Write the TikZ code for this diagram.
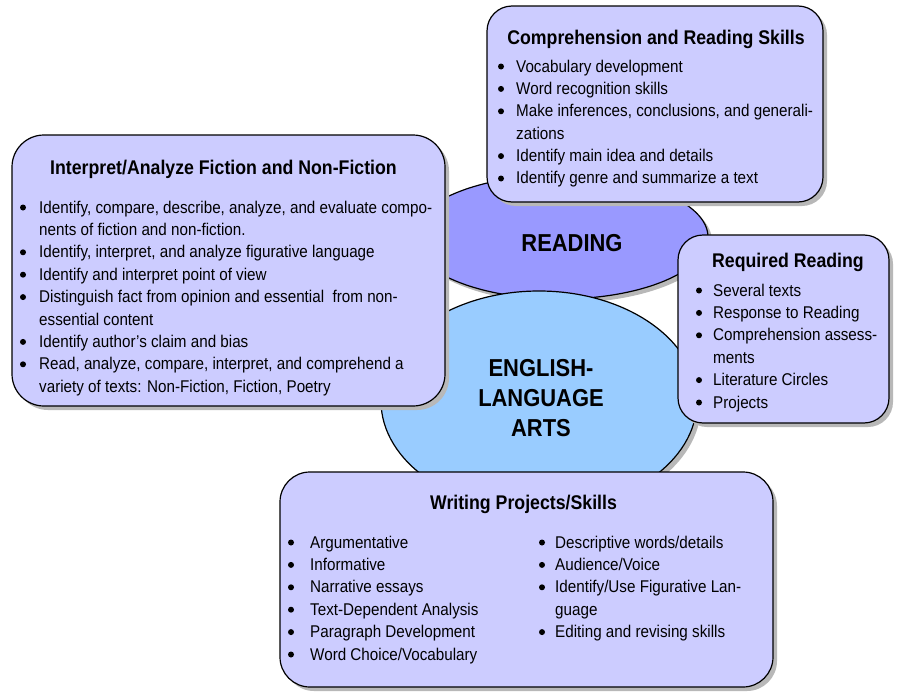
\documentclass[tikz,border=0pt]{standalone}
\usepackage{fontspec}
\setmainfont{Liberation Sans}[FakeStretch=0.895]
\usetikzlibrary{shapes}
\usetikzlibrary{shadows}

\definecolor{panelfill}{HTML}{CCCCFF}
\definecolor{readingfill}{HTML}{9999FF}
\definecolor{elafill}{HTML}{99CCFF}

\newcommand{\blist}[1]{\begin{tabular}[t]{@{}l@{}}#1\end{tabular}}

\begin{document}
\begin{tikzpicture}[x=1pt, y=-1pt,
  panel/.style={draw=black, line width=1.2pt, fill=panelfill, rounded corners=#1,
    drop shadow={shadow xshift=4pt, shadow yshift=-4pt, fill=black!28, opacity=1}},
  hub/.style={ellipse, draw=black, line width=1.2pt,
    drop shadow={shadow xshift=4pt, shadow yshift=-4pt, fill=black!28, opacity=1}},
  headtext/.style={anchor=base, font=\fontsize{19.8}{24}\selectfont\bfseries, inner sep=0pt},
  listtext/.style={anchor=base west, font=\fontsize{17}{22.4}\selectfont, inner sep=0pt},
  hubtext/.style={align=center, font=\fontsize{24.5}{30}\selectfont\bfseries, inner sep=0pt}]

\fill[white] (0,0) rectangle (898,696);
\useasboundingbox (0,0) rectangle (898,696);

\node[hub, fill=readingfill, minimum width=296, minimum height=124] (readinghub) at (560,237) {};
\node[hub, fill=elafill, minimum width=316, minimum height=220] (elahub) at (539,401) {};
\node[hubtext] (readingtext) at (572,243) {READING};
\node[hubtext] (elatext) at (541,398) {ENGLISH-\\LANGUAGE\\ARTS};

\node[panel=25pt, minimum width=336, minimum height=196] (skillsbox) at (655,104) {};
\node[headtext] (skillshead) at (656,44) {Comprehension and Reading Skills};
\node[listtext] (skillslist) at (516,72) {\blist{
Vocabulary development\\
Word recognition skills\\
Make inferences, conclusions, and generali-\\
zations\\
Identify main idea and details\\
Identify genre and summarize a text}};
\foreach \row in {0,1,2,4,5}
  \fill (501,66.5+\row*22.4) circle (3);

\node[panel=32pt, minimum width=433, minimum height=271] (fictionbox) at (228.5,270.5) {};
\node[headtext] (fictionhead) at (223.5,174) {Interpret/Analyze Fiction and Non-Fiction};
\node[listtext] (fictionlist) at (39,213) {\blist{
Identify, compare, describe, analyze, and evaluate compo-\\
nents of fiction and non-fiction.\\
Identify, interpret, and analyze figurative language\\
Identify and interpret point of view\\
Distinguish fact from opinion and essential\ \ from non-\\
essential content\\
Identify author’s claim and bias\\
Read, analyze, compare, interpret, and comprehend a\\
variety of texts: Non-Fiction, Fiction, Poetry}};
\foreach \row in {0,2,3,4,6,7}
  \fill (23,207.5+\row*22.4) circle (3);

\node[panel=25pt, minimum width=211, minimum height=188] (requiredbox) at (783.5,329) {};
\node[headtext] (requiredhead) at (788,267) {Required Reading};
\node[listtext] (requiredlist) at (713,296) {\blist{
Several texts\\
Response to Reading\\
Comprehension assess-\\
ments\\
Literature Circles\\
Projects}};
\foreach \row in {0,1,2,4,5}
  \fill (699,290.5+\row*22.4) circle (3);

\node[panel=30pt, minimum width=493, minimum height=215] (writingbox) at (526.5,579.5) {};
\node[headtext] (writinghead) at (523.5,509) {Writing Projects/Skills};
\node[listtext] (writinglist) at (310,548) {\blist{
Argumentative\\
Informative\\
Narrative essays\\
Text-Dependent Analysis\\
Paragraph Development\\
Word Choice/Vocabulary}};
\foreach \row in {0,...,5}
  \fill (291,542.5+\row*22.4) circle (3);
\node[listtext] (writingmore) at (555,548) {\blist{
Descriptive words/details\\
Audience/Voice\\
Identify/Use Figurative Lan-\\
guage\\
Editing and revising skills}};
\foreach \row in {0,1,2,4}
  \fill (542,542.5+\row*22.4) circle (3);
\end{tikzpicture}
\end{document}
